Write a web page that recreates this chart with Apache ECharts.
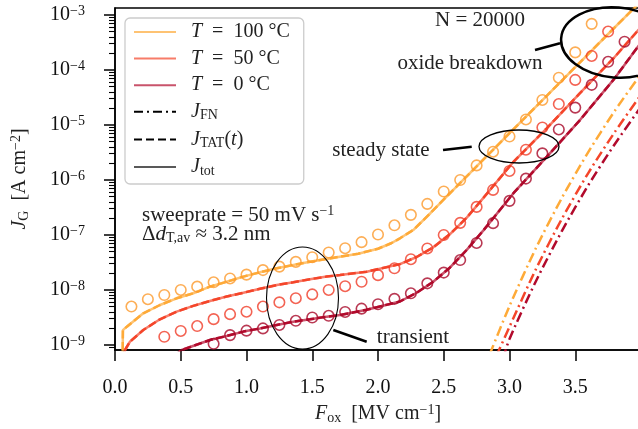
<!DOCTYPE html>
<html><head><meta charset="utf-8">
<script src="https://cdn.jsdelivr.net/npm/echarts@6/dist/echarts.min.js"></script>
<style>html,body{margin:0;padding:0;background:#fff}#c{width:638px;height:429px}</style>
</head><body><div id="c"></div>
<script>
// ---------- data ----------
const xTicks = [0, 0.5, 1.0, 1.5, 2.0, 2.5, 3.0, 3.5];
const yTickExps = [-9, -8, -7, -6, -5, -4, -3];

// measured points (circles)
const measX100 = [0.125,0.25,0.375,0.5,0.625,0.75,0.875,1.0,1.125,1.25,1.375,1.5,1.625,1.75,1.875,2.0,2.125,2.25,2.375,2.5,2.625,2.75,2.875,3.0,3.125,3.25,3.375,3.5,3.625];
const measJ100 = [5.0e-9,6.8e-9,8.1e-9,1.0e-8,1.15e-8,1.38e-8,1.62e-8,1.9e-8,2.3e-8,2.66e-8,3.24e-8,3.94e-8,4.8e-8,5.75e-8,7.4e-8,1.02e-7,1.5e-7,2.32e-7,3.67e-7,6.17e-7,1.0e-6,1.84e-6,3.27e-6,6.17e-6,1.26e-5,2.85e-5,7.24e-5,2.09e-4,6.9e-4];
const measX50 = [0.375,0.5,0.625,0.75,0.875,1.0,1.125,1.25,1.375,1.5,1.625,1.75,1.875,2.0,2.125,2.25,2.375,2.5,2.625,2.75,2.875,3.0,3.125,3.25,3.375,3.5,3.625,3.75];
const measJ50 = [1.41e-9,1.8e-9,2.21e-9,2.95e-9,3.63e-9,4.03e-9,5.0e-9,5.96e-9,7.08e-9,8.3e-9,1.0e-8,1.17e-8,1.41e-8,1.86e-8,2.48e-8,3.63e-8,5.69e-8,1.0e-7,1.66e-7,3.24e-7,6.6e-7,1.46e-6,3.55e-6,9.0e-6,2.4e-5,6.6e-5,1.8e-4,5.0e-4];
const measX0 = [0.75,0.875,1.0,1.125,1.25,1.375,1.5,1.625,1.75,1.875,2.0,2.125,2.25,2.375,2.5,2.625,2.75,2.875,3.0,3.125,3.25,3.375,3.5,3.625,3.75,3.875];
const measJ0 = [1.05e-9,1.51e-9,1.82e-9,2.0e-9,2.31e-9,2.75e-9,3.16e-9,3.39e-9,3.98e-9,4.57e-9,5.5e-9,6.9e-9,8.7e-9,1.32e-8,2.07e-8,3.5e-8,7.16e-8,1.64e-7,4.17e-7,1.06e-6,3.05e-6,8.3e-6,2.07e-5,5.37e-5,1.41e-4,3.27e-4];

// model J_tot / J_TAT(t) (they coincide in the picture)
const modelX100 = [0.058,0.06,0.09,0.215,0.342,0.469,0.595,0.722,0.849,0.976,1.103,1.23,1.356,1.483,1.61,1.71,1.85,2.0,2.1,2.167,2.268,2.4,2.522,2.776,3.029,3.283,3.536,3.79,4.0];
const modelJ100 = [5.0e-10,1.86e-9,2.15e-9,3.77e-9,5.33e-9,7.06e-9,8.7e-9,1.15e-8,1.41e-8,1.75e-8,2.1e-8,2.48e-8,2.85e-8,3.27e-8,3.66e-8,4.03e-8,4.57e-8,5.62e-8,7.08e-8,8.7e-8,1.23e-7,2.51e-7,5.0e-7,2.04e-6,8.3e-6,3.39e-5,1.38e-4,5.62e-4,1.78e-3];
const modelX50 = [0.055,0.076,0.114,0.215,0.342,0.469,0.595,0.722,0.849,0.976,1.103,1.23,1.356,1.483,1.61,1.711,1.914,2.167,2.294,2.42,2.548,2.675,2.8,3.03,3.283,3.536,3.79,4.0];
const modelJ50 = [5.0e-10,8.1e-10,1.15e-9,1.87e-9,2.93e-9,4.03e-9,5.13e-9,6.31e-9,7.59e-9,8.9e-9,1.05e-8,1.23e-8,1.38e-8,1.57e-8,1.75e-8,1.87e-8,2.15e-8,2.95e-8,3.98e-8,5.96e-8,1.04e-7,2.07e-7,4.68e-7,2.14e-6,8.7e-6,3.8e-5,1.62e-4,6.03e-4];
const modelX0 = [0.45,0.507,0.722,0.849,0.976,1.103,1.23,1.356,1.483,1.61,1.711,1.914,2.167,2.294,2.42,2.548,2.675,2.8,3.03,3.283,3.536,3.79,4.0];
const modelJ0 = [6.3e-10,8.1e-10,1.23e-9,1.46e-9,1.75e-9,2.0e-9,2.31e-9,2.65e-9,2.93e-9,3.27e-9,3.5e-9,4.37e-9,6.17e-9,8.9e-9,1.41e-8,2.57e-8,5.37e-8,1.2e-7,5.75e-7,2.63e-6,1.23e-5,6.6e-5,3.16e-4];

// Fowler-Nordheim curves
const fnX100 = [2.85,3.0,3.2,3.4,3.6,3.8,4.0];
const fnJ100 = [6.8e-10,5.1e-9,5.7e-8,4.8e-7,3.24e-6,1.8e-5,8.5e-5];
const fnX50 = [2.9,3.0,3.2,3.4,3.6,3.8,4.0];
const fnJ50 = [6.3e-10,2.14e-9,2.37e-8,2.0e-7,1.35e-6,7.4e-6,3.55e-5];
const fnX0 = [2.95,3.0,3.2,3.4,3.6,3.8,4.0];
const fnJ0 = [5.6e-10,1.29e-9,1.43e-8,1.2e-7,8.1e-7,4.47e-6,2.14e-5];

// ---------- styling ----------
const C100 = '#feaa38', C50 = '#f4452a', C0 = '#b20a2c';
const M100 = '#fd9a2c', M50 = '#f03c28', M0 = '#a80828';
const FONT = '"Liberation Serif", "DejaVu Serif", serif';
const TXT = '#222';
const LW = 2.5;
const DASH = [8, 3.5];
const DASHDOT = [10, 4, 2, 4];

const toPts = (xs, js) => xs.map((x, i) => [x, Math.log10(js[i])]);
const yMin = Math.log10(8.1e-10), yMax = Math.log10(1.34e-3);
const minorTicks = [];
for (let n = -10; n <= -3; n++) for (let k = 2; k <= 9; k++) {
  const v = n + Math.log10(k);
  if (v > yMin && v < yMax) minorTicks.push(v);
}

const richBase = (size) => ({
  r: {fontFamily: FONT, fontSize: size, color: TXT, lineHeight: 22, verticalAlign: 'middle'},
  i: {fontFamily: FONT, fontSize: size, color: TXT, fontStyle: 'italic', lineHeight: 22, verticalAlign: 'middle'},
  sub: {fontFamily: FONT, fontSize: 14, color: TXT, lineHeight: 8, verticalAlign: 'bottom'},
  sup: {fontFamily: FONT, fontSize: 14, color: TXT, lineHeight: 8, verticalAlign: 'top'}
});

const legendText = {
  T100: '{i|T}{r|  =  100 °C}',
  T50: '{i|T}{r|  =  50 °C}',
  T0: '{i|T}{r|  =  0 °C}',
  JFN: '{i|J}{sub|FN}',
  JTAT: '{i|J}{sub|TAT}{r|(}{i|t}{r|)}',
  Jtot: '{i|J}{sub|tot}'
};

function lineSeries(name, pts, color, opts) {
  return Object.assign({
    name: name, type: 'line', data: pts, symbol: 'none', showSymbol: false,
    lineStyle: {color: color, width: LW, type: 'solid'},
    itemStyle: {color: color}, clip: true, silent: true
  }, opts || {});
}
function scatterSeries(pts, color) {
  return {
    type: 'scatter', data: pts, symbol: 'circle', symbolSize: 10.5,
    itemStyle: {color: 'rgba(255,255,255,0)', borderColor: color, borderWidth: 1.6},
    clip: true, silent: true, z: 3
  };
}

const series = [];
[[modelX100, modelJ100, C100, 'T100'], [modelX50, modelJ50, C50, 'T50'], [modelX0, modelJ0, C0, 'T0']].forEach(([xs, js, c, nm]) => {
  const pts = toPts(xs, js);
  series.push(lineSeries(nm, pts, c, {lineStyle: {color: c, width: LW, opacity: 0.7}}));
  series.push(lineSeries('tat_' + nm, pts, c, {lineStyle: {color: c, width: LW, type: DASH}}));
});
[[fnX100, fnJ100, C100], [fnX50, fnJ50, C50], [fnX0, fnJ0, C0]].forEach(([xs, js, c], k) => {
  series.push(lineSeries('fn_' + k, toPts(xs, js), c, {smooth: 0.25, lineStyle: {color: c, width: LW, type: DASHDOT}}));
});
series.push(scatterSeries(toPts(measX100, measJ100), M100));
series.push(scatterSeries(toPts(measX50, measJ50), M50));
series.push(scatterSeries(toPts(measX0, measJ0), M0));
// legend-only entries
series.push(lineSeries('JFN', [], '#000', {lineStyle: {color: '#000', width: 2.2, type: [9, 4, 2, 4]}}));
series.push(lineSeries('JTAT', [], '#000', {lineStyle: {color: '#000', width: 2.2, type: [8, 4]}}));
series.push(lineSeries('Jtot', [], '#000', {lineStyle: {color: '#000', width: 2.5, opacity: 0.65}}));

const chart = echarts.init(document.getElementById('c'), null, {renderer: 'canvas'});

const AF = 21;
const gText = (text, x, y, align) => ({
  type: 'text', z: 100,
  style: {
    text: text, x: x, y: y, align: align || 'center', verticalAlign: 'middle',
    fill: TXT, fontFamily: FONT, fontSize: AF,
    rich: {
      r: {fontFamily: FONT, fontSize: AF, fill: TXT, lineHeight: 22, verticalAlign: 'middle'},
      i: {fontFamily: FONT, fontSize: AF, fill: TXT, fontStyle: 'italic', lineHeight: 22, verticalAlign: 'middle'},
      sub: {fontFamily: FONT, fontSize: 14, fill: TXT, lineHeight: 8, verticalAlign: 'bottom'},
      sup: {fontFamily: FONT, fontSize: 14, fill: TXT, lineHeight: 8, verticalAlign: 'top'}
    }
  }
});
const gLine = (x1, y1, x2, y2, w) => ({type: 'line', z: 100, shape: {x1, y1, x2, y2}, style: {stroke: '#000', lineWidth: w}});
const gEll = (cx, cy, rx, ry, w, rot) => ({type: 'ellipse', z: 100, x: cx, y: cy, rotation: rot || 0, shape: {cx: 0, cy: 0, rx, ry}, style: {fill: 'none', stroke: '#000', lineWidth: w}});

chart.setOption({
  animation: false,
  backgroundColor: '#fff',
  grid: {left: 115, right: -3, top: 8, bottom: 79, show: true, borderColor: '#000', borderWidth: 1.5,
         backgroundColor: 'rgba(0,0,0,0)', containLabel: false, outerBoundsMode: 'none'},
  xAxis: {
    type: 'value', min: 0, max: 4,
    name: '{i|F}{sub|ox}{r|  [MV cm}{sup|−1}{r|]}',
    nameLocation: 'middle', nameGap: 50,
    nameTextStyle: {rich: richBase(20)},
    axisLine: {show: true, onZero: false, lineStyle: {color: '#000', width: 1.5}},
    axisTick: {show: true, length: 11, inside: false, lineStyle: {color: '#000', width: 1.5}, customValues: xTicks},
    axisLabel: {show: true, margin: 28, fontFamily: FONT, fontSize: 20, color: '#111', customValues: xTicks,
                formatter: v => v.toFixed(1)},
    splitLine: {show: false}, minorTick: {show: false}
  },
  yAxis: [{
    type: 'value', min: yMin, max: yMax,
    name: '{i|J}{sub|G}{r|  [A cm}{sup|−2}{r|]}',
    nameLocation: 'middle', nameGap: 84, nameRotate: 90,
    nameTextStyle: {rich: richBase(20)},
    axisLine: {show: true, onZero: false, lineStyle: {color: '#000', width: 1.5}},
    axisTick: {show: true, length: 11, lineStyle: {color: '#000', width: 1.5}, customValues: yTickExps},
    axisLabel: {
      show: true, margin: 30, customValues: yTickExps,
      formatter: v => '{b|10}{s|−' + Math.round(-v) + '}',
      rich: {
        b: {fontFamily: FONT, fontSize: 20, color: '#111', lineHeight: 22, verticalAlign: 'middle'},
        s: {fontFamily: FONT, fontSize: 14, color: '#111', lineHeight: 8, verticalAlign: 'top'}
      }
    },
    splitLine: {show: false}
  }, {
    type: 'value', min: yMin, max: yMax, position: 'left', offset: 0,
    axisLine: {show: false},
    axisTick: {show: true, length: 6, lineStyle: {color: '#000', width: 1.1}, customValues: minorTicks},
    axisLabel: {show: false},
    splitLine: {show: false}
  }],
  legend: {
    show: true, orient: 'vertical', left: 125, top: 18,
    padding: [4, 14, 6, 8], itemGap: 6.6, itemWidth: 42, itemHeight: 2,
    itemStyle: {opacity: 0, borderWidth: 0},
    backgroundColor: 'rgba(255,255,255,0.85)', borderColor: '#cccccc', borderWidth: 1.3, borderRadius: 5,
    data: ['T100', 'T50', 'T0', 'JFN', 'JTAT', 'Jtot'],
    formatter: n => legendText[n],
    textStyle: {fontFamily: FONT, fontSize: 20, color: TXT, padding: [0, 0, 0, 10], rich: richBase(20)},
    selectedMode: false
  },
  series: series,
  graphic: [
    gText('N = 20000', 480, 20),
    gText('oxide breakdown', 470, 63),
    gLine(535, 50, 560, 43.3, 2.5),
    gEll(616, 42.5, 55, 35, 2.5, -0.08),
    gText('steady state', 381, 150),
    gLine(443, 150, 471.7, 146.7, 2.5),
    gEll(519, 146.5, 40, 16.5, 1.3, 0),
    gText('transient', 413, 337),
    gLine(366.7, 341.7, 333.3, 330, 2.5),
    gEll(302.5, 298, 36, 51, 1.1, 0),
    gText('{r|sweeprate = 50 mV s}{sup|−1}', 142, 215, 'left'),
    gText('{r|Δ}{i|d}{sub|T,av}{r| ≈ 3.2 nm}', 142, 234, 'left')
  ]
});
</script>
</body></html>
